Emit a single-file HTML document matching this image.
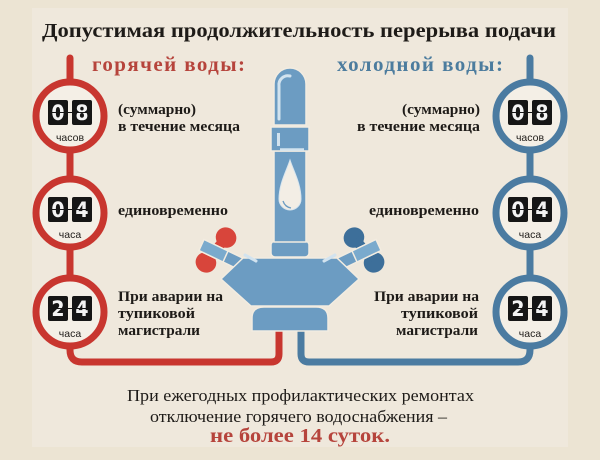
<!DOCTYPE html>
<html><head><meta charset="utf-8"><style>
html,body{margin:0;padding:0;background:#ece4d3;}
svg{display:block;}
.t{font-family:"Liberation Serif","DejaVu Serif",serif;font-weight:bold;fill:#1e1b18;}
.r{font-family:"Liberation Serif","DejaVu Serif",serif;fill:#1e1b18;}
.d{font-family:"DejaVu Sans Condensed","Liberation Sans Narrow","Liberation Sans",sans-serif;font-weight:bold;fill:#f4f4f4;font-size:21px;}
.l{font-family:"Liberation Sans Narrow","Liberation Sans",sans-serif;font-size:10.5px;fill:#1e1b18;}
</style></head><body>
<svg width="600" height="460" viewBox="0 0 600 460" xmlns="http://www.w3.org/2000/svg">
<rect width="600" height="460" fill="#ece4d3"/>
<rect x="32" y="8" width="536" height="439" fill="#efe8dc"/>

<!-- title -->
<text class="t" x="42" y="37" font-size="20" textLength="514" lengthAdjust="spacingAndGlyphs">Допустимая продолжительность перерыва подачи</text>
<text class="t" x="92" y="71" font-size="21" style="fill:#b6443c" textLength="153" lengthAdjust="spacing">горячей воды:</text>
<text class="t" x="337" y="71" font-size="21" style="fill:#4c7c9e" textLength="166" lengthAdjust="spacing">холодной воды:</text>

<!-- pipes -->
<path d="M70,58 V350 Q70,362 82,362 H271 Q279,362 279,354 V325" fill="none" stroke="#c8362f" stroke-width="7" stroke-linecap="round"/>
<path d="M530,58 V350 Q530,362 518,362 H309 Q301,362 301,354 V325" fill="none" stroke="#4b7ba1" stroke-width="7" stroke-linecap="round"/>

<!-- left circles -->
<g>
<circle cx="70" cy="116" r="34" fill="#f4efe6" stroke="#c8362f" stroke-width="7"/>
<rect x="48" y="100" width="20" height="25" rx="2" fill="#161616"/>
<rect x="72" y="100" width="20" height="25" rx="2" fill="#161616"/>
<text class="d" x="58" y="120" text-anchor="middle">0</text>
<text class="d" x="82" y="120" text-anchor="middle">8</text>
<line x1="48" y1="112.5" x2="92" y2="112.5" stroke="#161616" stroke-width="1"/>
<text class="l" x="70" y="141" text-anchor="middle">часов</text>

<circle cx="70" cy="213" r="34" fill="#f4efe6" stroke="#c8362f" stroke-width="7"/>
<rect x="48" y="197" width="20" height="25" rx="2" fill="#161616"/>
<rect x="72" y="197" width="20" height="25" rx="2" fill="#161616"/>
<text class="d" x="58" y="217" text-anchor="middle">0</text>
<text class="d" x="82" y="217" text-anchor="middle">4</text>
<line x1="48" y1="209.5" x2="92" y2="209.5" stroke="#161616" stroke-width="1"/>
<text class="l" x="70" y="238" text-anchor="middle">часа</text>

<circle cx="70" cy="312" r="34" fill="#f4efe6" stroke="#c8362f" stroke-width="7"/>
<rect x="48" y="296" width="20" height="25" rx="2" fill="#161616"/>
<rect x="72" y="296" width="20" height="25" rx="2" fill="#161616"/>
<text class="d" x="58" y="316" text-anchor="middle">2</text>
<text class="d" x="82" y="316" text-anchor="middle">4</text>
<line x1="48" y1="308.5" x2="92" y2="308.5" stroke="#161616" stroke-width="1"/>
<text class="l" x="70" y="337" text-anchor="middle">часа</text>
</g>

<!-- right circles -->
<g>
<circle cx="530" cy="116" r="34" fill="#f4efe6" stroke="#4b7ba1" stroke-width="7"/>
<rect x="508" y="100" width="20" height="25" rx="2" fill="#161616"/>
<rect x="532" y="100" width="20" height="25" rx="2" fill="#161616"/>
<text class="d" x="518" y="120" text-anchor="middle">0</text>
<text class="d" x="542" y="120" text-anchor="middle">8</text>
<line x1="508" y1="112.5" x2="552" y2="112.5" stroke="#161616" stroke-width="1"/>
<text class="l" x="530" y="141" text-anchor="middle">часов</text>

<circle cx="530" cy="213" r="34" fill="#f4efe6" stroke="#4b7ba1" stroke-width="7"/>
<rect x="508" y="197" width="20" height="25" rx="2" fill="#161616"/>
<rect x="532" y="197" width="20" height="25" rx="2" fill="#161616"/>
<text class="d" x="518" y="217" text-anchor="middle">0</text>
<text class="d" x="542" y="217" text-anchor="middle">4</text>
<line x1="508" y1="209.5" x2="552" y2="209.5" stroke="#161616" stroke-width="1"/>
<text class="l" x="530" y="238" text-anchor="middle">часа</text>

<circle cx="530" cy="312" r="34" fill="#f4efe6" stroke="#4b7ba1" stroke-width="7"/>
<rect x="508" y="296" width="20" height="25" rx="2" fill="#161616"/>
<rect x="532" y="296" width="20" height="25" rx="2" fill="#161616"/>
<text class="d" x="518" y="316" text-anchor="middle">2</text>
<text class="d" x="542" y="316" text-anchor="middle">4</text>
<line x1="508" y1="308.5" x2="552" y2="308.5" stroke="#161616" stroke-width="1"/>
<text class="l" x="530" y="337" text-anchor="middle">часа</text>
</g>

<!-- left texts -->
<text class="t" x="118" y="114" font-size="15" textLength="78" lengthAdjust="spacingAndGlyphs">(суммарно)</text>
<text class="t" x="118" y="131" font-size="15" textLength="122" lengthAdjust="spacingAndGlyphs">в течение месяца</text>
<text class="t" x="118" y="215" font-size="15" textLength="110" lengthAdjust="spacingAndGlyphs">единовременно</text>
<text class="t" x="118" y="301" font-size="15" textLength="105" lengthAdjust="spacingAndGlyphs">При аварии на</text>
<text class="t" x="118" y="318" font-size="15" textLength="77" lengthAdjust="spacingAndGlyphs">тупиковой</text>
<text class="t" x="118" y="335" font-size="15" textLength="82" lengthAdjust="spacingAndGlyphs">магистрали</text>

<!-- right texts -->
<text class="t" x="402" y="114" font-size="15" textLength="78" lengthAdjust="spacingAndGlyphs">(суммарно)</text>
<text class="t" x="357" y="131" font-size="15" textLength="123" lengthAdjust="spacingAndGlyphs">в течение месяца</text>
<text class="t" x="369" y="215" font-size="15" textLength="110" lengthAdjust="spacingAndGlyphs">единовременно</text>
<text class="t" x="374" y="301" font-size="15" textLength="105" lengthAdjust="spacingAndGlyphs">При аварии на</text>
<text class="t" x="401" y="318" font-size="15" textLength="77" lengthAdjust="spacingAndGlyphs">тупиковой</text>
<text class="t" x="396" y="335" font-size="15" textLength="82" lengthAdjust="spacingAndGlyphs">магистрали</text>

<!-- faucet -->
<g stroke="#f2ece1" stroke-width="1.5">
  <!-- handles -->
  <g transform="translate(216,250) rotate(39)">
    <ellipse cx="0" cy="-16" rx="10.5" ry="10" fill="#d8453b" stroke="none"/>
    <ellipse cx="0" cy="16" rx="10.5" ry="10" fill="#d8453b" stroke="none"/>
    <rect x="-5" y="-14" width="10" height="28" fill="#d8453b" stroke="none"/>
  </g>
  <g transform="translate(364,250) rotate(-39)">
    <ellipse cx="0" cy="-16" rx="10.5" ry="10" fill="#3d6f9a" stroke="none"/>
    <ellipse cx="0" cy="16" rx="10.5" ry="10" fill="#3d6f9a" stroke="none"/>
    <rect x="-5" y="-14" width="10" height="28" fill="#3d6f9a" stroke="none"/>
  </g>
  <!-- arms -->
  <polygon points="252,262.5 204,239.5 199,250.5 247,273.5" fill="#6c9cc2"/>
  <polygon points="328,262.5 376,239.5 381,250.5 333,273.5" fill="#6c9cc2"/>
  <polygon points="228,251 204,239.5 199,250.5 223,262" fill="#7aaacd"/>
  <polygon points="352,251 376,239.5 381,250.5 357,262" fill="#7aaacd"/>
  <!-- body -->
  <polygon points="243,258 337,258 359,279 329,306 251,306 221,279" fill="#6c9cc2"/>
  <line x1="245" y1="255" x2="256" y2="261" stroke="#d2e3ef" stroke-width="3" stroke-linecap="round"/>
  <line x1="335" y1="255" x2="324" y2="261" stroke="#d2e3ef" stroke-width="3" stroke-linecap="round"/>
  <!-- base -->
  <path d="M252,331 V318 Q252,307 264,307 H316 Q328,307 328,318 V331 Z" fill="#6c9cc2"/>
  <!-- lower collar -->
  <rect x="271" y="241" width="38" height="16" rx="4" fill="#6c9cc2"/>
  <!-- tube -->
  <rect x="274" y="151" width="32" height="91" fill="#6c9cc2"/>
  <!-- collar -->
  <rect x="271" y="127" width="38" height="24" fill="#6c9cc2"/>
  <!-- cap -->
  <path d="M274,125 V84 A16,16 0 0 1 306,84 V125 Z" fill="#6c9cc2"/>
</g>
<!-- faucet highlights -->
<path d="M279,119 V86 A9,9 0 0 1 290,76" fill="none" stroke="#d2e3ef" stroke-width="3" stroke-linecap="round"/>
<line x1="278.5" y1="133" x2="278.5" y2="146" stroke="#d2e3ef" stroke-width="3"/>
<line x1="280" y1="149.5" x2="304" y2="149.5" stroke="#d2e3ef" stroke-width="2.5"/>
<path d="M290,160 C286,172 279,184 279,199 A11,11 0 0 0 301,199 C301,184 294,172 290,160 Z" fill="#f3eee5" stroke="#d9e6ef" stroke-width="1"/>
<path d="M283,201 Q285,207 291,208" fill="none" stroke="#6c9cc2" stroke-width="1.3"/>

<!-- bottom text -->
<text class="r" x="127" y="401" font-size="17" textLength="347" lengthAdjust="spacingAndGlyphs">При ежегодных профилактических ремонтах</text>
<text class="r" x="150" y="422" font-size="17" textLength="297" lengthAdjust="spacingAndGlyphs">отключение горячего водоснабжения –</text>
<text class="t" x="210" y="442" font-size="20" style="fill:#b6443c" textLength="180" lengthAdjust="spacingAndGlyphs">не более 14 суток.</text>
</svg>
</body></html>
